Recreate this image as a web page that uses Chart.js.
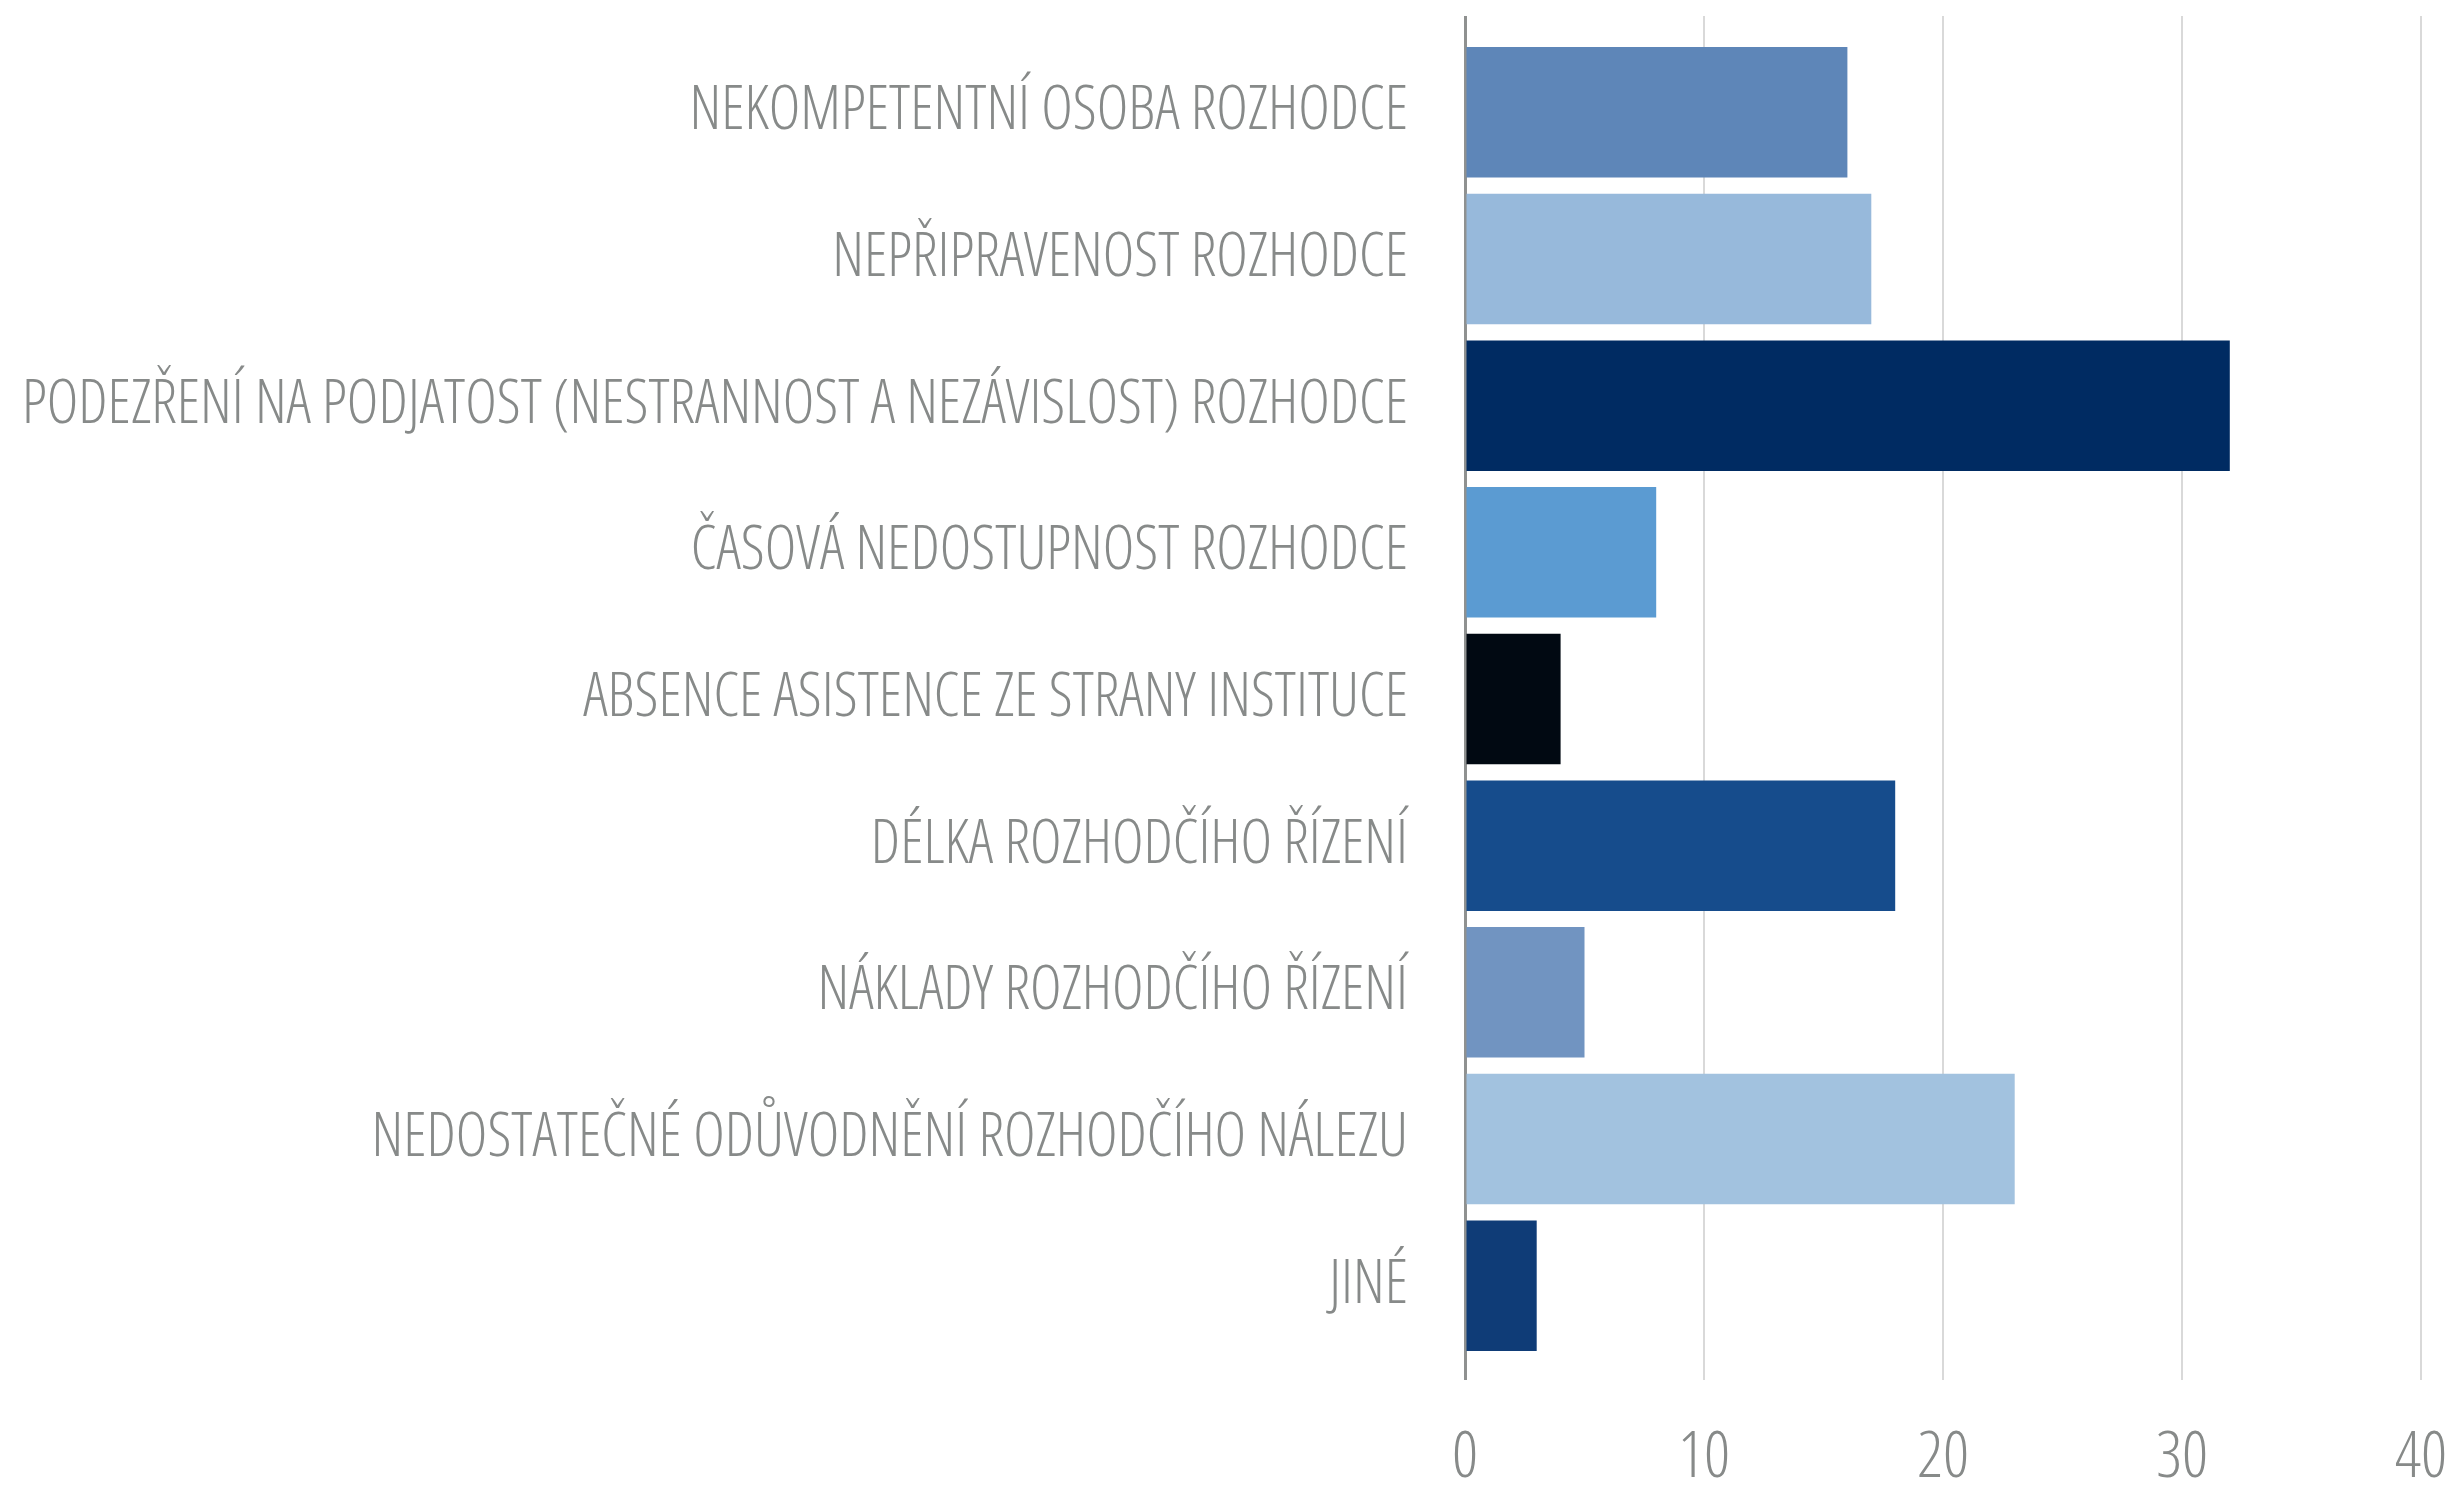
<!DOCTYPE html>
<html>
<head>
<meta charset="utf-8">
<script src="https://cdn.jsdelivr.net/npm/chart.js@4/dist/chart.umd.min.js"></script>
<style>
  html, body { margin: 0; padding: 0; background: #fff; overflow: hidden; }
  #wrap { width: 2454px; height: 1486px; position: relative; }
</style>
</head>
<body>
<div id="wrap"><canvas id="chart"></canvas></div>
<script>
const categories = [
    'NEKOMPETENTNÍ OSOBA ROZHODCE',
    'NEPŘIPRAVENOST ROZHODCE',
    'PODEZŘENÍ NA PODJATOST (NESTRANNOST A NEZÁVISLOST) ROZHODCE',
    'ČASOVÁ NEDOSTUPNOST ROZHODCE',
    'ABSENCE ASISTENCE ZE STRANY INSTITUCE',
    'DÉLKA ROZHODČÍHO ŘÍZENÍ',
    'NÁKLADY ROZHODČÍHO ŘÍZENÍ',
    'NEDOSTATEČNÉ ODŮVODNĚNÍ ROZHODČÍHO NÁLEZU',
    'JINÉ'
];
const counts = [16, 17, 32, 8, 4, 18, 5, 23, 3];
const barColors = ['#5e86b8', '#97b9db', '#002b62', '#5b9bd2', '#010912', '#164c8c', '#7194c1', '#a2c2df', '#0f3c77'];
const axisMin = 0;
const axisMax = 40;
const axisStep = 10;

const textGray = '#878a89';
// Open Sans has a width axis, "condensed" picks the narrow cut
const labelFamily = "'Open Sans', sans-serif";
const labelWeight = 'condensed 300';

// grid line at zero is the darker axis line
function gridColor(ctx) {
    return ctx.tick && ctx.tick.value === 0 ? '#8f9190' : '#d9d9d9';
}
function gridWidth(ctx) {
    return ctx.tick && ctx.tick.value === 0 ? 3 : 2;
}
function noPad(scale) {
    scale.paddingLeft = 0;
    scale.paddingRight = 0;
    scale.paddingTop = 0;
    scale.paddingBottom = 0;
}

new Chart(document.getElementById('chart'), {
    type: 'bar',
    data: {
        labels: categories,
        datasets: [{
            data: counts,
            backgroundColor: barColors,
            borderWidth: 0,
            barPercentage: 0.89,
            categoryPercentage: 1.0,
            xAxisID: 'x'
        }]
    },
    options: {
        indexAxis: 'y',
        responsive: true,
        maintainAspectRatio: false,
        animation: false,
        layout: { padding: { top: 16, right: 33, bottom: 0, left: 0 } },
        plugins: {
            legend: { display: false },
            tooltip: { enabled: false }
        },
        scales: {
            x: {
                position: 'bottom',
                min: axisMin,
                max: axisMax,
                border: { display: false },
                grid: { color: gridColor, lineWidth: gridWidth, drawTicks: true, tickLength: 21, tickColor: gridColor, tickWidth: gridWidth },
                ticks: {
                    stepSize: axisStep,
                    color: textGray,
                    padding: 40,
                    font: { family: labelFamily, weight: labelWeight, size: 64 }
                },
                afterFit: function(scale) { scale.height = 127; noPad(scale); }
            },
            x2: {
                position: 'top',
                min: axisMin,
                max: axisMax,
                border: { display: false },
                grid: { drawOnChartArea: false, drawTicks: true, tickLength: 23, color: gridColor, lineWidth: gridWidth, tickColor: gridColor, tickWidth: gridWidth },
                ticks: { stepSize: axisStep, display: false },
                afterFit: function(scale) { scale.height = 23; noPad(scale); }
            },
            y: {
                border: { display: false },
                grid: { display: false, drawTicks: false },
                ticks: {
                    color: textGray,
                    padding: 57,
                    font: { family: labelFamily, weight: labelWeight, size: 60 }
                },
                afterFit: function(scale) { scale.width = 1465; noPad(scale); }
            }
        }
    }
});
</script>
</body>
</html>
